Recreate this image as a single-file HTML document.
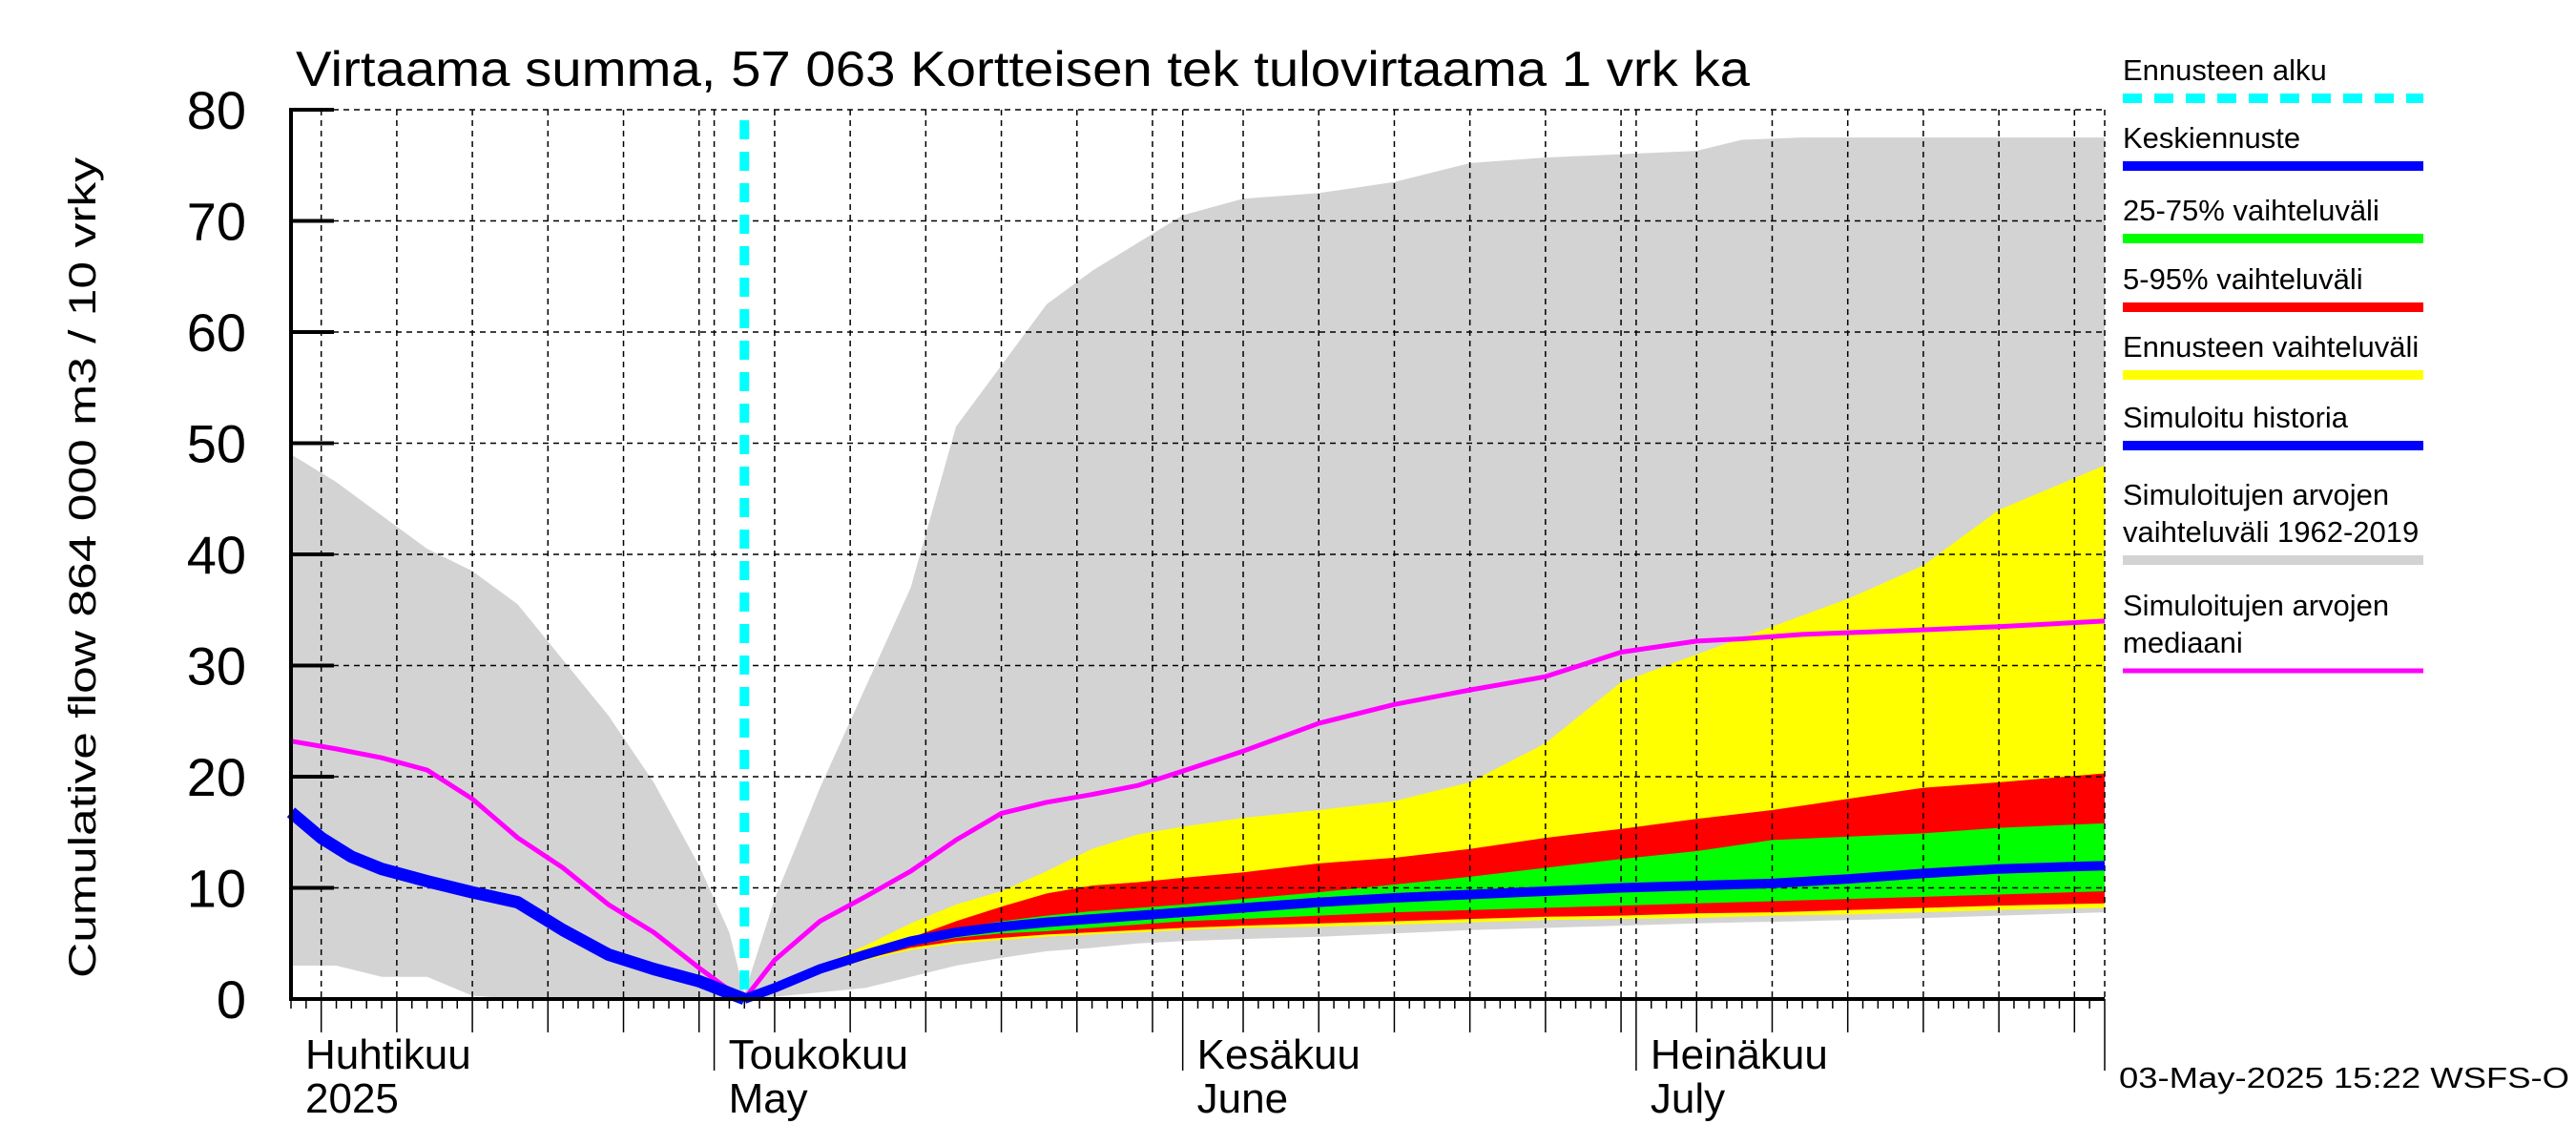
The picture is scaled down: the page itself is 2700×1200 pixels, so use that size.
<!DOCTYPE html>
<html><head><meta charset="utf-8"><style>
html,body{margin:0;padding:0;background:#fff;}
svg{display:block;}
text{font-family:"Liberation Sans",sans-serif;fill:#000;}
</style></head><body>
<svg id="chart" width="2700" height="1200" viewBox="0 0 2700 1200" xmlns="http://www.w3.org/2000/svg">
<text x="310" y="90" font-size="52" textLength="1524" lengthAdjust="spacingAndGlyphs">Virtaama summa, 57 063 Kortteisen tek tulovirtaama 1 vrk ka</text>
<text transform="translate(100,595) rotate(-90)" text-anchor="middle" font-size="40" textLength="860" lengthAdjust="spacingAndGlyphs">Cumulative flow    864 000 m3 / 10 vrky</text>
<g id="plot"></g>
<text x="2221" y="1140" font-size="31" textLength="472" lengthAdjust="spacingAndGlyphs">03-May-2025 15:22 WSFS-O</text>
<g id="legend"></g>
</svg>
<script>
// Days counted from 1 April 2025 (0 = Apr 1)
const histDays = [2,5,8,11,14,17,20,23,26,29,31,32,34,37,40,43,46,49,52,55,58,61,65,70,75,80,85,90,95,98,102,108,115,122];
const greyUpper = [49,46.5,43.5,40.5,38.5,35.5,30.5,25.5,19.5,12,6,0.5,9,19,28,37,51.5,57,62.5,65.5,68,70.5,72,72.5,73.5,75.2,75.7,76,76.3,77.3,77.5,77.5,77.5,77.5];
const greyLower = [3,3,2,2,0.3,0,0,0,0,0,0,0,0.2,0.6,1,2,3,3.7,4.3,4.6,5,5.2,5.4,5.6,5.9,6.2,6.4,6.6,6.8,6.9,7,7.2,7.5,7.8];
const medianVals = [23.2,22.5,21.7,20.6,18,14.5,11.8,8.5,6,2.8,0.8,0,3.5,7,9.2,11.5,14.3,16.7,17.7,18.4,19.2,20.5,22.3,24.8,26.5,27.8,29,31.2,32.2,32.4,32.8,33.1,33.5,34];
const simHistDays = [2,4,6,8,11,14,17,20,23,26,29,32];
const simHistVals = [16.8,14.5,12.8,11.7,10.6,9.6,8.7,6.2,4,2.7,1.6,0];
const fcDays = [32,34,37,40,43,46,49,52,55,58,61,65,70,75,80,85,90,95,100,105,110,115,122];
const meanVals = [0,1,2.7,4,5.2,6,6.5,6.9,7.2,7.5,7.8,8.2,8.7,9.1,9.4,9.7,10,10.2,10.4,10.8,11.3,11.7,12];
const yellowUpper = [0,1.2,3,4.8,6.8,8.5,9.7,11.5,13.5,14.8,15.5,16.3,17,17.8,19.5,23,28.5,31,33.5,36,39,44,48];
const redUpper = [0,1.1,2.8,4.4,5.5,7,8.3,9.5,10.2,10.5,10.9,11.4,12.2,12.7,13.5,14.5,15.3,16.2,17,18,19,19.5,20.3];
const greenUpper = [0,1,2.7,4.2,5.3,6.3,7,7.5,7.9,8.2,8.5,9,9.6,10.3,11,11.8,12.6,13.3,14.3,14.6,14.9,15.4,15.8];
const greenLower = [0,0.9,2.5,3.8,4.8,5.5,5.9,6.1,6.4,6.7,7,7.2,7.5,7.8,8,8.2,8.4,8.6,8.8,9,9.2,9.4,9.7];
const redLower = [0,0.9,2.4,3.6,4.6,5.2,5.5,5.8,6,6.2,6.4,6.6,6.8,7,7.2,7.4,7.5,7.7,7.8,8,8.2,8.4,8.6];
const yellowLower = [0,0.8,2.3,3.5,4.4,5,5.3,5.6,5.8,6,6.2,6.4,6.5,6.7,6.9,7.1,7.2,7.3,7.5,7.6,7.8,8,8.2];
const yTicks = [0,10,20,30,40,50,60,70,80];
const monthStarts = [0,30,61,91,122];
const monthLabels = [["Huhtikuu","2025"],["Toukokuu","May"],["Kesäkuu","June"],["Heinäkuu","July"]];
const forecastStartDay = 32;

const L=305,R=2206,T=115,B=1047, D0=2, D1=122, YMAX=80;
const xs = d => L + (d-D0)*(R-L)/(D1-D0);
const ys = v => B - v*(B-T)/YMAX;
const NS="http://www.w3.org/2000/svg";
const plot=document.getElementById('plot');
function mk(tag,attrs,parent){const e=document.createElementNS(NS,tag);for(const k in attrs)e.setAttribute(k,attrs[k]);(parent||plot).appendChild(e);return e;}
function band(days,lo,hi,color,name){
  let p=days.map((d,i)=>xs(d)+','+ys(hi[i])).concat(days.slice().reverse().map((d,i)=>xs(d)+','+ys(lo[days.length-1-i])));
  const e=mk('polygon',{points:p.join(' '),fill:color,stroke:'none'});
  
  
}
function line(days,vals,color,w,name){
  const e=mk('polyline',{points:days.map((d,i)=>xs(d)+','+ys(vals[i])).join(' '),fill:'none',stroke:color,'stroke-width':w,'stroke-linejoin':'round'});
  
  
}
band(histDays,greyLower,greyUpper,'#d3d3d3','historic-range-band');
band(fcDays,yellowLower,yellowUpper,'#ffff00','forecast-range-band');
band(fcDays,redLower,redUpper,'#ff0000','band-5-95');
band(fcDays,greenLower,greenUpper,'#00ff00','band-25-75');
for(const v of yTicks){ if(v===0)continue;
  const g=mk('line',{x1:L,x2:R,y1:ys(v),y2:ys(v),stroke:'#000','stroke-width':1.5,'stroke-dasharray':'6,5'});
  
  
}
const dim=[31,30,31,30,31,31];
for(let m=0;m<4;m++){
  const s=monthStarts[m];
  const gd=[s];for(let k=5;k<=30;k+=5){if(k<=dim[m]-1||k===30&&dim[m]>=30)gd.push(s+k-1);}
  for(const d of gd){ if(d<D0||d>D1)continue;
    const g=mk('line',{x1:xs(d),x2:xs(d),y1:T,y2:B,stroke:'#000','stroke-width':1.5,'stroke-dasharray':'6,5'});
    
    
  }
}
mk('line',{x1:R,x2:R,y1:T,y2:B,stroke:'#000','stroke-width':1.5,'stroke-dasharray':'6,5'});
line(histDays,medianVals,'#ff00ff',5,'median-line');
line(simHistDays,simHistVals,'#0000ff',13,'simulated-history-line');
line(fcDays,meanVals,'#0000ff',10,'mean-forecast-line');
const cy=mk('line',{x1:xs(forecastStartDay),x2:xs(forecastStartDay),y1:126,y2:B,stroke:'#00ffff','stroke-width':10,'stroke-dasharray':'20,13'});


mk('line',{x1:L,x2:L,y1:T-2,y2:B+2,stroke:'#000','stroke-width':4});
mk('line',{x1:L,x2:R,y1:B,y2:B,stroke:'#000','stroke-width':4});
for(const v of yTicks){
  mk('line',{x1:L,x2:L+45,y1:ys(v),y2:ys(v),stroke:'#000','stroke-width':4});
  const t=mk('text',{x:258,y:ys(v)+20,'text-anchor':'end','font-size':56});
  t.textContent=v;
  
  
}
for(let d=D0;d<=D1;d++){
  let len=10;
  if(monthStarts.includes(d))len=75; else{
    const m=monthStarts.filter(s=>s<=d).length-1;const dom=d-monthStarts[m]+1;
    if(dom%5===0)len=35;
  }
  mk('line',{x1:xs(d),x2:xs(d),y1:B,y2:B+len,stroke:'#000','stroke-width':1.5});
}
for(let m=0;m<4;m++){
  const x=Math.max(xs(monthStarts[m]),L)+15;
  const t1=mk('text',{x:x,y:1120,'font-size':44});t1.textContent=monthLabels[m][0];
  
  
  const t2=mk('text',{x:x,y:1166,'font-size':44});t2.textContent=monthLabels[m][1];
  
  
}
const lg=document.getElementById('legend');
const entries=[
 [["Ennusteen alku"],'#00ffff',103,'dash'],
 [["Keskiennuste"],'#0000ff',174],
 [["25-75% vaihteluväli"],'#00ff00',250],
 [["5-95% vaihteluväli"],'#ff0000',322],
 [["Ennusteen vaihteluväli"],'#ffff00',393],
 [["Simuloitu historia"],'#0000ff',467],
 [["Simuloitujen arvojen","vaihteluväli 1962-2019"],'#d3d3d3',587],
 [["Simuloitujen arvojen","mediaani"],'#ff00ff',703]];
for(const [lines,col,ly,st] of entries){
  const g=mk('g',{},lg);
  
  
  lines.forEach((s,i)=>{const t=mk('text',{x:2225,y:ly-19-(lines.length-1-i)*39,'font-size':31},g);t.textContent=s;});
  const a={x1:2225,x2:2540,y1:ly,y2:ly,stroke:col,'stroke-width':st?10:(col==='#ff00ff'?5:10)};
  if(st)a['stroke-dasharray']='20,13';
  mk('line',a,g);
}
</script>
</body></html>
